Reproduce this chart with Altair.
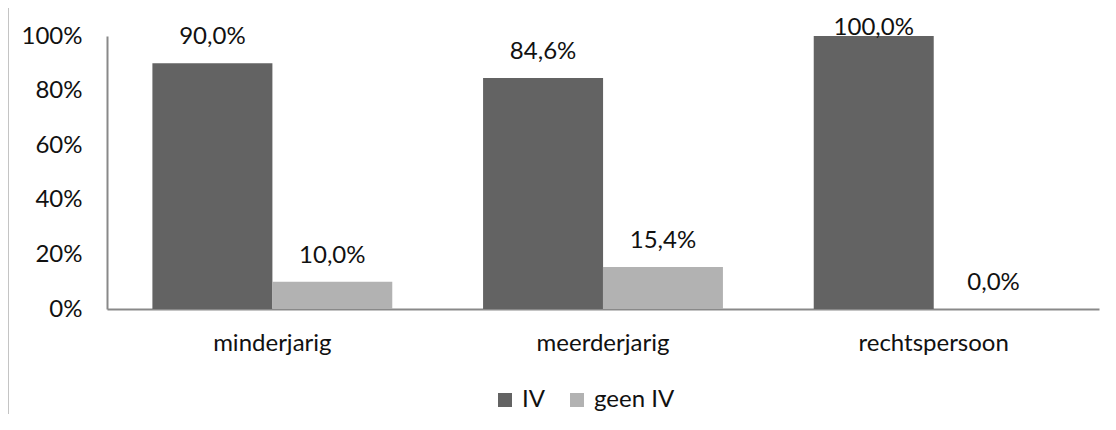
import altair as alt
import pandas as pd

categories = ["minderjarig", "meerderjarig", "rechtspersoon"]
series = ["IV", "geen IV"]
iv_values = [90.0, 84.6, 100.0]
geen_iv_values = [10.0, 15.4, 0.0]
y_ticks = [0, 20, 40, 60, 80, 100]
colors = ["#636363", "#b2b2b2"]

rows = []
for c, v in zip(categories, iv_values):
    rows.append({"cat": c, "series": "IV", "value": v})
for c, v in zip(categories, geen_iv_values):
    rows.append({"cat": c, "series": "geen IV", "value": v})
df = pd.DataFrame(rows)

FONT = "Lato"
FS = 24
W, H = 992, 273

x_enc = alt.X("cat:N", sort=categories, title=None,
              scale=alt.Scale(paddingInner=0.275, paddingOuter=0.1375),
              axis=alt.Axis(labelAngle=0, ticks=False, domainColor="#898989", domainWidth=2,
                            labelFont=FONT, labelFontSize=FS, labelColor="#111111",
                            labelPadding=22))
xo_enc = alt.XOffset("series:N", sort=series, scale=alt.Scale(paddingInner=0, paddingOuter=0))

base = alt.Chart(df)

bars = base.mark_bar(size=120).encode(
    x=x_enc,
    xOffset=xo_enc,
    y=alt.Y("value:Q", title=None,
            scale=alt.Scale(domain=[0, 100], nice=False),
            axis=alt.Axis(values=y_ticks, labelExpr="datum.value + '%'", grid=False, ticks=False,
                          domainColor="#898989", domainWidth=2, labelFont=FONT, labelFontSize=FS,
                          labelColor="#111111", labelPadding=25)),
    color=alt.Color("series:N", sort=series, title=None,
                    scale=alt.Scale(domain=series, range=colors),
                    legend=alt.Legend(orient="none", legendX=386, legendY=352, direction="horizontal",
                                      symbolType="square", symbolSize=196, symbolStrokeWidth=0,
                                      labelFont=FONT, labelFontSize=FS, labelColor="#111111",
                                      labelOffset=5, columnPadding=20, padding=0)),
)

labels = base.transform_calculate(
    lbl="replace(format(datum.value, '.1f'), '.', ',') + '%'",
    ly="min(datum.value + 7, 100.4)",
).mark_text(font=FONT, fontSize=FS, color="#111111", baseline="alphabetic").encode(
    x=alt.X("cat:N", sort=categories),
    xOffset=alt.XOffset("series:N", sort=series),
    y=alt.Y("ly:Q"),
    text="lbl:N",
)

frame = alt.Chart(pd.DataFrame({"f": [0]})).mark_rect(
    fill="transparent", stroke="#8a8a8a", strokeWidth=1.5
).encode(
    x=alt.value(-99.25), x2=alt.value(1400), y=alt.value(-28.75), y2=alt.value(700)
)

chart = alt.layer(frame, bars, labels).properties(
    width=W, height=H,
    autosize=alt.AutoSizeParams(type="none"),
    padding={"left": 99, "top": 28, "right": 9, "bottom": 105},
).configure(font=FONT).configure_view(stroke="transparent", strokeWidth=0)

chart.save("out.html", embed_options={"renderer": "svg", "actions": False})
